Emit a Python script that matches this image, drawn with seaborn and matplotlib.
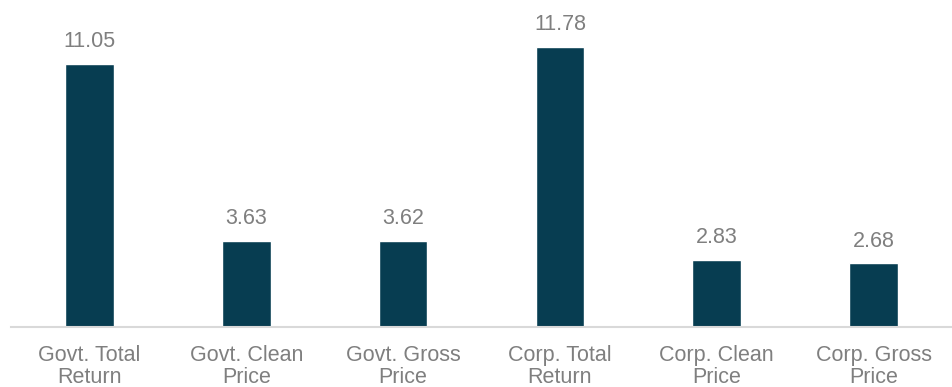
import matplotlib
matplotlib.use("Agg")
import matplotlib.pyplot as plt
import seaborn as sns
import pandas as pd

categories = ["Govt. Total\nReturn", "Govt. Clean\nPrice", "Govt. Gross\nPrice",
              "Corp. Total\nReturn", "Corp. Clean\nPrice", "Corp. Gross\nPrice"]
values = [11.05, 3.63, 3.62, 11.78, 2.83, 2.68]
value_labels = ["11.05", "3.63", "3.62", "11.78", "2.83", "2.68"]

sns.set_theme(style="white")
plt.rcParams["font.family"] = ["Liberation Sans", "DejaVu Sans"]

BAR = "#073D51"
TEXT = "#7F7F7F"

df = pd.DataFrame({"category": categories, "value": values})

fig = plt.figure(figsize=(9.52, 3.87), dpi=100)
ax = fig.add_axes([11 / 952, 60 / 387, 941 / 952, 327 / 387])

sns.barplot(data=df, x="category", y="value", color=BAR, width=0.31,
            saturation=1, ax=ax)

ax.set_ylim(0, 13.74)
ax.set_xlim(-0.5, len(categories) - 0.5)

for i, (v, lab) in enumerate(zip(values, value_labels)):
    ax.annotate(lab, (i, v), xytext=(0, 12), textcoords="offset points",
                ha="center", va="baseline", fontsize=15.5, color=TEXT)

for s in ["top", "right", "left"]:
    ax.spines[s].set_visible(False)
ax.spines["bottom"].set_color("#D9D9D9")
ax.spines["bottom"].set_linewidth(1.5)

ax.set_yticks([])
ax.set_xlabel("")
ax.set_ylabel("")
ax.tick_params(axis="x", length=0, pad=13, labelsize=15.5, labelcolor=TEXT)
for t in ax.get_xticklabels():
    t.set_linespacing(1.05)

fig.savefig("out.png", dpi=100, facecolor="white")
